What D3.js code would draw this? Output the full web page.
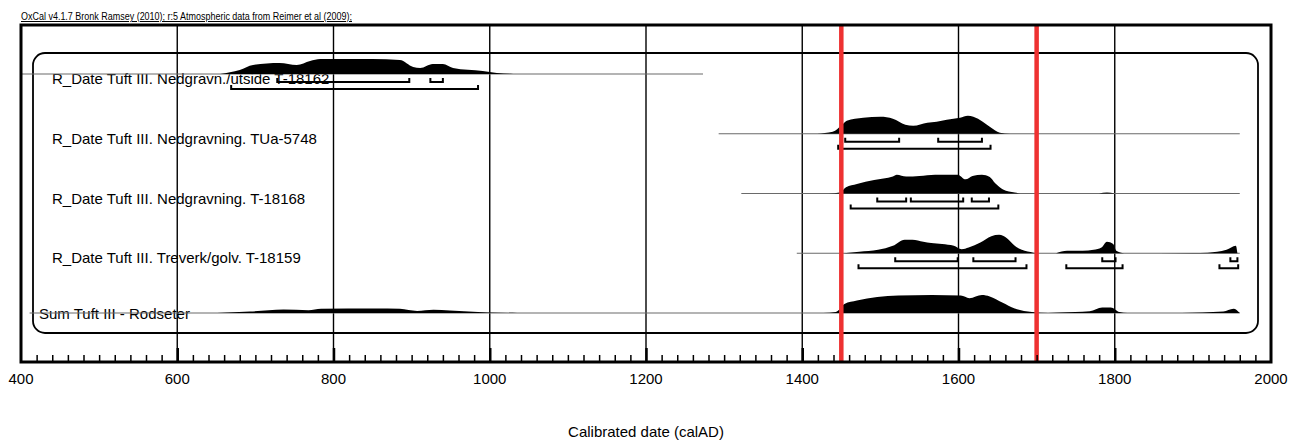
<!DOCTYPE html>
<meta charset="utf-8">
<title>OxCal multiplot</title>
<style>
body { margin: 0; background: #fff; }
svg text { font-family: "Liberation Sans", Arial, sans-serif; fill: #000; }
</style>
<svg width="1291" height="446"></svg>
<script src="https://cdn.jsdelivr.net/npm/d3@7"></script>
<script>

// header and axis text
var header = "OxCal v4.1.7 Bronk Ramsey (2010); r:5 Atmospheric data from Reimer et al (2009);";
var axisTitle = "Calibrated date (calAD)";
var tickYears = [400, 600, 800, 1000, 1200, 1400, 1600, 1800, 2000];
var markerYears = [1450, 1700];

// one entry per row, top to bottom
var labels = [
  "R_Date Tuft III. Nedgravn./utside  T-18162",
  "R_Date Tuft III. Nedgravning. TUa-5748",
  "R_Date Tuft III. Nedgravning. T-18168",
  "R_Date Tuft III. Treverk/golv. T-18159",
  "Sum Tuft III - Rodseter"
];
// where the thin row line starts and stops (years)
var lineSpans = [[400, 1273], [1293, 1960], [1322, 1960], [1393, 1960], [411, 1960]];

// probability curves, [year, relative density], one or more pieces per row
var dens1 = [[[655,0],[680,20],[697,45],[731,55],[753,45],[770,65],[783,75],[850,75],[885,70],[902,35],[911,30],[927,50],[940,50],[953,30],[991,15],[1009,5],[1030,0]]];
var dens2 = [[[1419,0],[1439,10],[1451,45],[1457,65],[1478,80],[1500,85],[1516,75],[1532,45],[1542,40],[1560,55],[1572,60],[1585,70],[1602,80],[1612,90],[1619,85],[1631,60],[1640,35],[1653,5],[1666,0]]];
var dens3 = [[[1434,0],[1448,5],[1456,31],[1470,48],[1492,68],[1516,85],[1521,94],[1533,85],[1550,88],[1570,94],[1599,94],[1609,71],[1618,88],[1630,94],[1640,82],[1647,51],[1657,20],[1672,5],[1679,0]],
             [[1780,0],[1790,5],[1800,0]]];
var dens4 = [[[1453,0],[1473,7],[1497,17],[1516,37],[1531,68],[1541,68],[1555,58],[1565,51],[1579,46],[1594,37],[1604,20],[1613,29],[1628,54],[1642,85],[1652,92],[1662,75],[1672,37],[1681,17],[1696,3],[1706,0]],
             [[1725,0],[1739,12],[1759,12],[1773,17],[1783,29],[1790,58],[1798,46],[1802,12],[1812,0],[1900,1],[1919,3],[1943,17],[1955,37],[1957,0]]];
var dens5 = [[[651,0],[693,7],[736,17],[768,14],[784,21],[853,22],[885,21],[907,10],[928,16],[949,12],[997,3],[1035,0]],
             [[1427,0],[1443,5],[1454,45],[1470,62],[1496,80],[1523,87],[1566,90],[1603,87],[1614,74],[1630,90],[1640,83],[1656,52],[1672,22],[1694,5],[1715,0],[1731,3],[1768,9],[1784,28],[1795,28],[1806,5],[1816,0],[1886,0],[1939,7],[1952,21],[1960,0]]];
var densities = [dens1, dens2, dens3, dens4, dens5];

// 68.2% and 95.4% ranges
var range68 = [
  [[728,897],[924,940]],
  [[1455,1524],[1574,1630]],
  [[1496,1533],[1539,1606],[1617,1639]],
  [[1519,1599],[1619,1673],[1784,1801],[1948,1957]],
  []
];
var range95 = [
  [[669,985]],
  [[1446,1641]],
  [[1462,1651]],
  [[1472,1687],[1738,1810],[1934,1958]],
  []
];

var svg = d3.select("svg");
// note: "top" is taken by window.top, so use other names
var plotL = 21, plotR = 1271, plotT = 25, plotB = 362;

var x = d3.scaleLinear().domain([400, 2000]).range([plotL, plotR]);
var h = d3.scaleLinear().domain([0, 100]).range([0, 20]);
var rowY = d3.scalePoint().domain(d3.range(labels.length)).range([74, 313]);

// header
svg.append("text")
  .attr("x", plotL).attr("y", 20)
  .attr("font-size", 10)
  .attr("textLength", 331).attr("lengthAdjust", "spacingAndGlyphs")
  .attr("text-decoration", "underline")
  .text(header);

// grid lines
svg.append("g").selectAll("line")
  .data(tickYears.slice(1, -1))
  .join("line")
  .attr("x1", d => x(d)).attr("x2", d => x(d))
  .attr("y1", plotT).attr("y2", plotB)
  .attr("stroke", "#000").attr("stroke-width", 1.4);

// rounded box around the rows
svg.append("rect")
  .attr("x", 33).attr("y", 53)
  .attr("width", 1258 - 33).attr("height", 333 - 53)
  .attr("rx", 12)
  .attr("fill", "none").attr("stroke", "#000").attr("stroke-width", 1.8);

var rows = svg.append("g").selectAll("g")
  .data(labels)
  .join("g")
  .attr("transform", (d, i) => "translate(0," + rowY(i) + ")");

// labels
rows.append("text")
  .attr("x", (d, i) => i == 4 ? 39 : 52)
  .attr("y", (d, i) => i == 4 ? 6 : 10)
  .attr("font-size", 15)
  .text(d => d);

// thin row lines
rows.append("line")
  .attr("x1", (d, i) => x(lineSpans[i][0]))
  .attr("x2", (d, i) => x(lineSpans[i][1]))
  .attr("stroke", "#6a6a6a").attr("stroke-width", 1.1);

// probability distributions
var area = d3.area()
  .x(d => x(d[0]))
  .y0(0)
  .y1(d => -h(d[1]))
  .curve(d3.curveMonotoneX);

rows.selectAll("path.dist")
  .data((d, i) => densities[i])
  .join("path")
  .attr("class", "dist")
  .attr("d", area)
  .attr("fill", "#000");

// range brackets
function bracket(a, b, dy) {
  return "M" + x(a) + "," + (dy - 4) + "V" + dy + "H" + x(b) + "V" + (dy - 4);
}
rows.selectAll("path.r68")
  .data((d, i) => range68[i])
  .join("path")
  .attr("class", "r68")
  .attr("d", d => bracket(d[0], d[1], 8))
  .attr("fill", "none").attr("stroke", "#000").attr("stroke-width", 2);
rows.selectAll("path.r95")
  .data((d, i) => range95[i])
  .join("path")
  .attr("class", "r95")
  .attr("d", d => bracket(d[0], d[1], 15))
  .attr("fill", "none").attr("stroke", "#000").attr("stroke-width", 2);

// red marker lines
svg.append("g").selectAll("line")
  .data(markerYears)
  .join("line")
  .attr("x1", d => x(d)).attr("x2", d => x(d))
  .attr("y1", plotT).attr("y2", plotB)
  .attr("stroke", "#ee3131").attr("stroke-width", 4.5);

// frame
svg.append("rect")
  .attr("x", plotL).attr("y", plotT)
  .attr("width", plotR - plotL).attr("height", plotB - plotT)
  .attr("fill", "none").attr("stroke", "#000").attr("stroke-width", 3);

// axis: ticks point up into the plot
var axis = d3.axisTop(x)
  .tickValues(d3.range(420, 2000, 20).filter(d => d % 200 != 0))
  .tickSize(7)
  .tickFormat("");
svg.append("g")
  .attr("transform", "translate(0," + plotB + ")")
  .call(axis)
  .call(g => g.select(".domain").remove())
  .call(g => g.selectAll("line").attr("stroke-width", 1.5));

svg.append("g")
  .attr("transform", "translate(0," + plotB + ")")
  .call(d3.axisTop(x).tickValues(tickYears.slice(1, -1)).tickSize(14).tickFormat(""))
  .call(g => g.select(".domain").remove())
  .call(g => g.selectAll("line").attr("stroke-width", 2.5));

svg.append("g").selectAll("text")
  .data(tickYears)
  .join("text")
  .attr("x", d => x(d)).attr("y", plotB + 22)
  .attr("text-anchor", "middle")
  .attr("font-size", 15)
  .text(d => d);

svg.append("text")
  .attr("x", (plotL + plotR) / 2).attr("y", 437)
  .attr("text-anchor", "middle")
  .attr("font-size", 15)
  .text(axisTitle);

</script>
